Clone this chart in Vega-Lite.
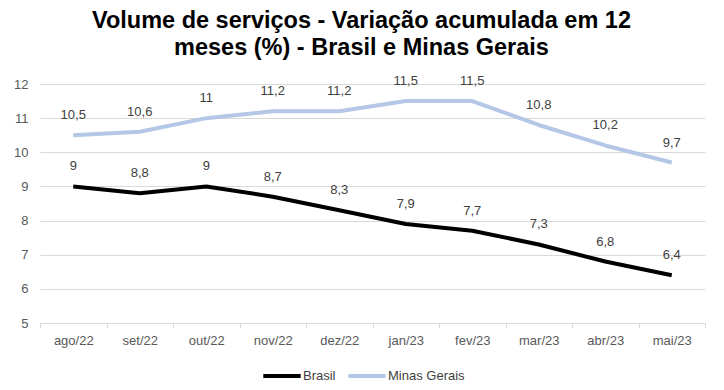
{
  "$schema": "https://vega.github.io/schema/vega-lite/v6.json",
  "autosize": {"type": "none"},
  "width": 665,
  "height": 239,
  "padding": {"left": 40, "top": 84, "right": 19, "bottom": 67},
  "background": "white",
  "config": {
    "font": "Liberation Sans",
    "view": {"stroke": null},
    "locale": {"number": {"decimal": ",", "thousands": ".", "grouping": [3], "currency": ["R$", ""]}}
  },
  "title": {
    "text": ["Volume de serviços - Variação acumulada em 12", "meses (%) - Brasil e Minas Gerais"],
    "font": "Liberation Sans",
    "fontSize": 23.5,
    "fontWeight": "bold",
    "color": "#000000",
    "lineHeight": 27,
    "anchor": "middle",
    "offset": 16,
    "dx": -11
  },
  "data": {
    "values": [
      {"mes": "ago/22", "serie": "Brasil", "valor": 9},
      {"mes": "set/22", "serie": "Brasil", "valor": 8.8},
      {"mes": "out/22", "serie": "Brasil", "valor": 9},
      {"mes": "nov/22", "serie": "Brasil", "valor": 8.7},
      {"mes": "dez/22", "serie": "Brasil", "valor": 8.3},
      {"mes": "jan/23", "serie": "Brasil", "valor": 7.9},
      {"mes": "fev/23", "serie": "Brasil", "valor": 7.7},
      {"mes": "mar/23", "serie": "Brasil", "valor": 7.3},
      {"mes": "abr/23", "serie": "Brasil", "valor": 6.8},
      {"mes": "mai/23", "serie": "Brasil", "valor": 6.4},
      {"mes": "ago/22", "serie": "Minas Gerais", "valor": 10.5},
      {"mes": "set/22", "serie": "Minas Gerais", "valor": 10.6},
      {"mes": "out/22", "serie": "Minas Gerais", "valor": 11},
      {"mes": "nov/22", "serie": "Minas Gerais", "valor": 11.2},
      {"mes": "dez/22", "serie": "Minas Gerais", "valor": 11.2},
      {"mes": "jan/23", "serie": "Minas Gerais", "valor": 11.5},
      {"mes": "fev/23", "serie": "Minas Gerais", "valor": 11.5},
      {"mes": "mar/23", "serie": "Minas Gerais", "valor": 10.8},
      {"mes": "abr/23", "serie": "Minas Gerais", "valor": 10.2},
      {"mes": "mai/23", "serie": "Minas Gerais", "valor": 9.7}
    ]
  },
  "encoding": {
    "x": {
      "field": "mes",
      "type": "ordinal",
      "sort": null,
      "scale": {"type": "band", "paddingInner": 0, "paddingOuter": 0},
      "axis": {
        "title": null,
        "labelAngle": 0,
        "labelFontSize": 13,
        "labelColor": "#595959",
        "labelPadding": 6,
        "domainColor": "#d9d9d9",
        "tickColor": "#d9d9d9",
        "tickSize": 5,
        "tickBand": "extent",
        "grid": false
      }
    },
    "y": {
      "field": "valor",
      "type": "quantitative",
      "scale": {"domain": [5, 12], "nice": false, "zero": false},
      "axis": {
        "title": null,
        "values": [5, 6, 7, 8, 9, 10, 11, 12],
        "labelFontSize": 13,
        "labelColor": "#595959",
        "labelPadding": 12,
        "domain": false,
        "ticks": false,
        "gridColor": "#d9d9d9",
        "gridWidth": 1
      }
    },
    "color": {
      "field": "serie",
      "type": "nominal",
      "scale": {"domain": ["Brasil", "Minas Gerais"], "range": ["#000000", "#b4c7e7"]},
      "legend": {
        "title": null,
        "orient": "none",
        "direction": "horizontal",
        "legendX": 221,
        "legendY": 271,
        "symbolType": "stroke",
        "symbolSize": 1400,
        "symbolStrokeWidth": 4,
        "labelFontSize": 13,
        "labelColor": "#404040",
        "labelOffset": 0,
        "columnPadding": 4
      }
    }
  },
  "layer": [
    {
      "mark": {"type": "line", "strokeWidth": 4, "strokeCap": "butt", "strokeJoin": "round"}
    },
    {
      "mark": {"type": "text", "dy": -20, "fontSize": 13, "color": "#404040"},
      "encoding": {
        "text": {"field": "valor", "type": "quantitative", "format": ".1~f"},
        "color": {"value": "#404040"}
      }
    }
  ]
}
